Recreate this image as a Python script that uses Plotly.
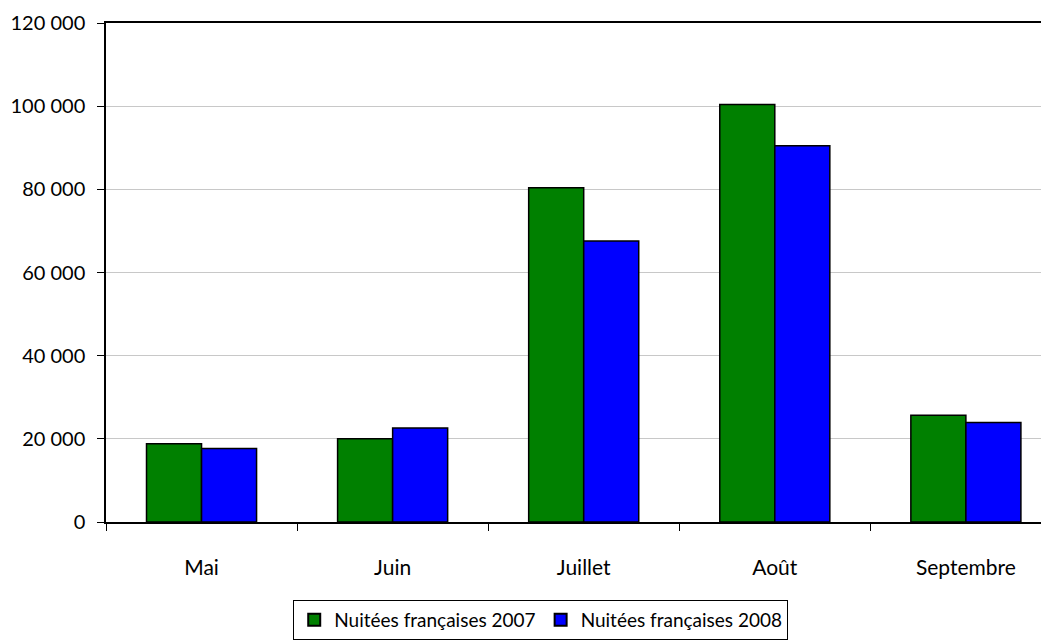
import plotly.graph_objects as go

months = ["Mai", "Juin", "Juillet", "Août", "Septembre"]
nuitees_2007 = [18800, 20000, 80400, 100400, 25700]
nuitees_2008 = [17700, 22600, 67600, 90500, 23900]
y_ticks = [0, 20000, 40000, 60000, 80000, 100000, 120000]

font_family = "Gill Sans, Lato, sans-serif"

fig = go.Figure()
fig.add_trace(go.Bar(x=months, y=nuitees_2007, name="Nuitées françaises 2007",
                     marker=dict(color="#008000", line=dict(color="black", width=1.5))))
fig.add_trace(go.Bar(x=months, y=nuitees_2008, name="Nuitées françaises 2008",
                     marker=dict(color="#0000FF", line=dict(color="black", width=1.5))))

# page body has an 8px default margin, so the figure is offset by 8px
fig.update_layout(
    width=1049, height=642,
    margin=dict(l=98, r=8, t=15, b=128, pad=0, autoexpand=False),
    paper_bgcolor="white", plot_bgcolor="white",
    separators=", ",
    font=dict(family=font_family, size=20, color="black"),
    barmode="group", bargap=0.424, bargroupgap=0,
    showlegend=True,
    legend=dict(orientation="h", x=0.461, xanchor="center", y=-0.156, yanchor="top",
                bordercolor="black", borderwidth=1, font=dict(size=19),
                itemsizing="constant", tracegroupgap=0),
)
fig.update_xaxes(
    range=[-0.5, 4.435], showline=True, linecolor="black", linewidth=1.5,
    mirror=True, ticks="outside", tickson="boundaries", ticklen=7,
    tickcolor="black", showgrid=False, ticklabelstandoff=26, automargin=False,
    tickfont=dict(size=21),
)
fig.update_yaxes(
    range=[0, 120000], tickvals=y_ticks, tickformat=",d",
    showline=True, linecolor="black", linewidth=1.5,
    ticks="outside", ticklen=7, tickcolor="black",
    showgrid=True, gridcolor="#c8c8c8", gridwidth=1, zeroline=False,
    ticklabelstandoff=8, automargin=False, tickfont=dict(size=20),
)

fig.write_html("out.html")
